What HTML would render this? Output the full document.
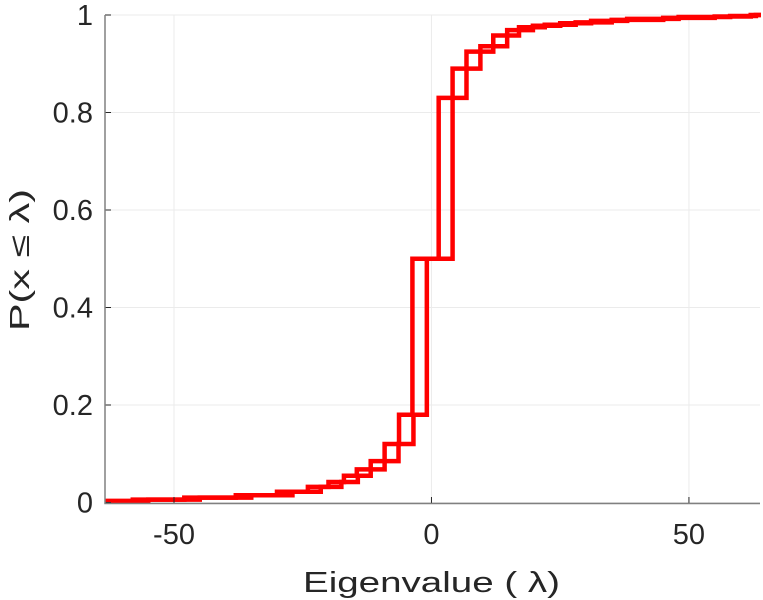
<!DOCTYPE html>
<html><head><meta charset="utf-8"><style>
body{margin:0;background:#fff;}
svg{display:block;font-family:"Liberation Sans",sans-serif;}
</style></head><body>
<svg id="chart" width="763" height="600" viewBox="0 0 763 600">
<defs><clipPath id="clip"><rect x="105" y="10" width="656" height="494"/></clipPath></defs>
<g id="grid"></g>
<g id="series" clip-path="url(#clip)"></g>
<g id="axes"></g>
<text x="303" y="592" font-size="29" fill="#262626" textLength="257" lengthAdjust="spacingAndGlyphs">Eigenvalue (   λ)</text>
<text transform="translate(29,331) rotate(-90)" font-size="28" fill="#262626" textLength="142" lengthAdjust="spacingAndGlyphs">P(x ≤ λ)</text>
</svg>
<script>
const xTicks=[-50,0,50];
const yTicks=[0,0.2,0.4,0.6,0.8,1];
const yTickLabels=["0","0.2","0.4","0.6","0.8","1"];
const jumpXA=[-58,-48,-38,-30,-24,-20,-17,-14.5,-11.8,-9.1,-6.3,-3.7,1.4,6.8,12,17,22,28,35,45,55,62];
const jumpYA=[0.006,0.01,0.015,0.022,0.032,0.042,0.055,0.068,0.085,0.12,0.18,0.5,0.83,0.925,0.958,0.975,0.98,0.985,0.99,0.994,0.997,1];
const jumpXB=[-55,-45,-35,-27,-21.5,-17.5,-14.3,-11.8,-9.1,-6.4,-3.5,-0.9,4.1,9.5,14.7,19.7,25,31,38,48,58,63];
const jumpYB=[0.006,0.01,0.015,0.022,0.032,0.042,0.055,0.068,0.085,0.12,0.18,0.5,0.89,0.936,0.969,0.978,0.983,0.988,0.992,0.996,0.998,1];
const startY=0.003;
const xMin=-63.4,xMax=63.8;
const X=v=>105+(v-xMin)/(xMax-xMin)*(760-105);
const Y=v=>502.5-v*487.5;
const NS="http://www.w3.org/2000/svg";
function mk(tag,attrs,parent){const e=document.createElementNS(NS,tag);for(const k in attrs)e.setAttribute(k,attrs[k]);parent.appendChild(e);return e;}
const grid=document.getElementById('grid'),axes=document.getElementById('axes'),series=document.getElementById('series');
xTicks.forEach(t=>{
 const g=mk('line',{x1:X(t),x2:X(t),y1:15,y2:503,stroke:'#ebebeb','stroke-width':1},grid);
 
 
 const tk=mk('line',{x1:X(t),x2:X(t),y1:503,y2:497,stroke:'#262626','stroke-width':1},axes);
 
 
 const l=mk('text',{x:X(t),y:544,'font-size':29,fill:'#262626','text-anchor':'middle'},axes);
 l.textContent=t;
 
 
});
yTicks.forEach((t,i)=>{
 const g=mk('line',{x1:105,x2:760,y1:Y(t),y2:Y(t),stroke:'#ebebeb','stroke-width':1},grid);
 
 
 const tk=mk('line',{x1:105,x2:111,y1:Y(t),y2:Y(t),stroke:'#262626','stroke-width':1},axes);
 
 
 const l=mk('text',{x:93,y:Y(t)+10,'font-size':29,fill:'#262626','text-anchor':'end'},axes);
 l.textContent=yTickLabels[i];
 
 
});
const ax=mk('path',{d:`M105,15 V503.5 H760`,fill:'none',stroke:'#808080','stroke-width':1.5},axes);


[[jumpXA,jumpYA],[jumpXB,jumpYB]].forEach((s,si)=>{
 let d=`M${X(xMin-1)},${Y(startY)}`;
 s[0].forEach((x,i)=>{d+=` H${X(x)} V${Y(s[1][i])}`;});
 d+=` H${X(xMax+1)}`;
 const p=mk('path',{d,fill:'none',stroke:'#ff0000','stroke-width':4.5,'stroke-linejoin':'miter'},series);
 
 
});
</script>
</body></html>
